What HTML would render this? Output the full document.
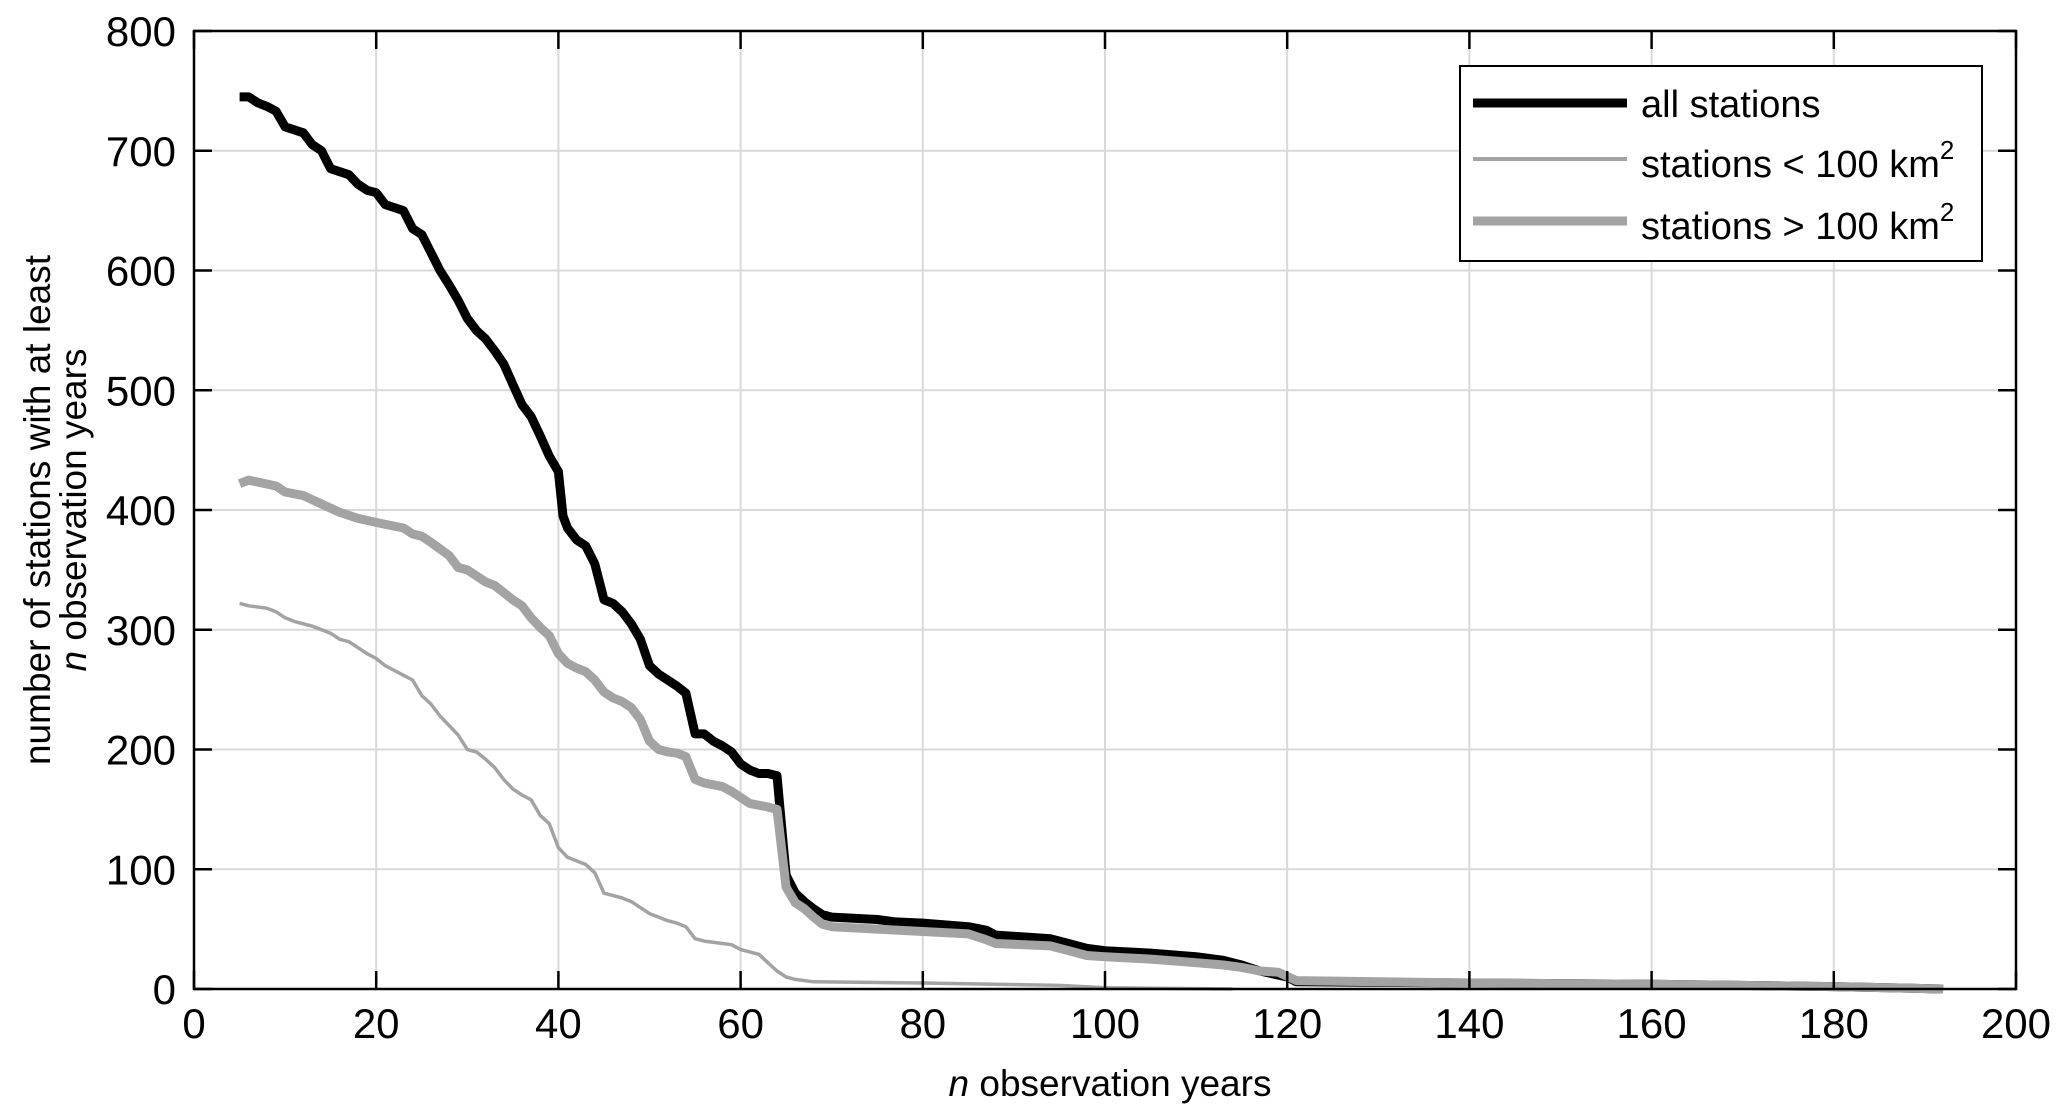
<!DOCTYPE html>
<html><head><meta charset="utf-8"><style>
html,body{margin:0;padding:0;background:#fff;}
svg{display:block;font-family:"Liberation Sans",Arial,sans-serif;}
</style></head><body>
<svg id="chart" width="2067" height="1119" viewBox="0 0 2067 1119">
<g id="grid"></g>
<g id="series"></g>
<g id="axes"></g>
<g>
<rect x="1460" y="66" width="522" height="195" fill="#fff" stroke="#000" stroke-width="2"/>
<line x1="1473" y1="103" x2="1627" y2="103" stroke="#000" stroke-width="9"/>
<text x="1641" y="117" font-size="38">all stations</text>
<line x1="1473" y1="159" x2="1627" y2="159" stroke="#a3a3a3" stroke-width="4"/>
<text x="1641" y="177" font-size="38">stations &lt; 100 km<tspan dy="-18" font-size="26">2</tspan></text>
<line x1="1473" y1="221" x2="1627" y2="221" stroke="#a3a3a3" stroke-width="9"/>
<text x="1641" y="239" font-size="38">stations &gt; 100 km<tspan dy="-18" font-size="26">2</tspan></text>
</g>
<text transform="translate(50,510) rotate(-90)" text-anchor="middle" font-size="37">number of stations with at least</text>
<text transform="translate(86,510) rotate(-90)" text-anchor="middle" font-size="37"><tspan font-style="italic">n</tspan> observation years</text>
<text x="1110" y="1096" text-anchor="middle" font-size="37"><tspan font-style="italic">n</tspan> observation years</text>
</svg>
<script>
const xTicks=[0,20,40,60,80,100,120,140,160,180,200];
const yTicks=[0,100,200,300,400,500,600,700,800];
const allX=[5,6,7,8,9,10,12,13,14,15,17,18,19,20,21,23,24,25,26,27,28,29,30,31,32,33,34,35,36,37,38,39,40,40.5,41,42,43,44,45,46,47,48,49,50,51,52,53,54,55,56,57,58,59,60,61,62,63,64,65,66,67,68,69,70,75,77,80,85,87,88,94,96,98,100,105,110,113,115,117,120,121,140,160,180,192];
const allY=[745,745,740,737,733,720,715,705,700,685,680,672,667,665,655,650,635,630,615,600,588,575,560,550,543,533,522,505,488,478,462,445,432,395,385,375,370,355,325,322,315,305,292,270,263,258,253,247,213,213,207,203,198,188,183,180,180,178,95,80,73,67,62,60,58,56,55,52,49,45,42,38,34,32,30,27,24,20,15,10,6,5,4,2,0];
const largeX=[5,6,9,10,12,14,16,18,21,23,24,25,26,28,29,30,32,33,35,36,37,38,39,40,41,42,43,44,45,46,47,48,49,50,51,52,53,54,55,56,58,59,60,61,63,64,65,66,67,68,69,70,75,80,85,87,88,94,96,98,100,105,110,113,115,117,119,121,140,160,180,192];
const largeY=[422,425,420,415,412,405,398,393,388,385,380,378,373,362,352,350,340,337,325,320,310,302,295,280,272,268,265,258,248,243,240,235,225,207,200,198,197,194,175,172,169,165,160,155,152,150,85,72,67,60,54,52,50,48,46,41,38,36,32,28,27,25,22,20,18,15,14,7,5,4,2,0];
const smallX=[5,6,8,9,10,11,13,14,15,16,17,18,19,20,21,22,23,24,25,26,27,28,29,30,31,32,33,34,35,36,37,38,39,40,41,42,43,44,45,46,47,48,49,50,51,52,53,54,55,56,58,59,60,61,62,63,64,65,66,67,68,80,95,100,114];
const smallY=[322,320,318,315,310,307,303,300,297,292,290,285,280,276,270,266,262,258,245,238,228,220,212,200,198,192,185,175,167,162,158,145,138,118,110,107,104,97,80,78,76,73,68,63,60,57,55,52,42,40,38,37,33,31,29,22,15,10,8,7,6,5,3,1,0];

const L=194,R=2016,T=31,B=989,NS='http://www.w3.org/2000/svg';
const sx=v=>L+(v-0)/200*(R-L);
const sy=v=>B-(v-0)/800*(B-T);
function mk(tag,attrs,parent){const e=document.createElementNS(NS,tag);for(const k in attrs)e.setAttribute(k,attrs[k]);parent.appendChild(e);return e;}
const grid=document.getElementById('grid'),axes=document.getElementById('axes'),series=document.getElementById('series');
xTicks.forEach(t=>{
  const x=sx(t);
  if(t>0&&t<200){const g=mk('line',{x1:x,y1:T,x2:x,y2:B,stroke:'#d9d9d9','stroke-width':2},grid);
  
  }
  const a=mk('line',{x1:x,y1:B,x2:x,y2:B-18,stroke:'#000','stroke-width':2.5},axes);
  
  
  const b=mk('line',{x1:x,y1:T,x2:x,y2:T+18,stroke:'#000','stroke-width':2.5},axes);
  
  
  const tx=mk('text',{x:x,y:1038,'text-anchor':'middle','font-size':42},axes);tx.textContent=t;
  
  
});
yTicks.forEach(t=>{
  const y=sy(t);
  if(t>0&&t<800){const g=mk('line',{x1:L,y1:y,x2:R,y2:y,stroke:'#d9d9d9','stroke-width':2},grid);
  
  }
  const a=mk('line',{x1:L,y1:y,x2:L+18,y2:y,stroke:'#000','stroke-width':2.5},axes);
  
  
  const b=mk('line',{x1:R,y1:y,x2:R-18,y2:y,stroke:'#000','stroke-width':2.5},axes);
  
  
  const tx=mk('text',{x:176,y:y+15,'text-anchor':'end','font-size':42},axes);tx.textContent=t;
  
  
});
const frame=mk('rect',{x:L,y:T,width:R-L,height:B-T,fill:'none',stroke:'#000','stroke-width':2.5},axes);


function line(xs,ys,color,w,name){
  const d=xs.map((x,i)=>(i?'L':'M')+sx(x).toFixed(1)+','+sy(ys[i]).toFixed(1)).join('');
  const p=mk('path',{d:d,fill:'none',stroke:color,'stroke-width':w,'stroke-linejoin':'round'},series);
  
  
}
line(allX,allY,'#000',9,'line-all-stations');
line(smallX,smallY,'#a3a3a3',3.5,'line-stations-small');
line(largeX,largeY,'#a3a3a3',9,'line-stations-large');
</script>
</body></html>
